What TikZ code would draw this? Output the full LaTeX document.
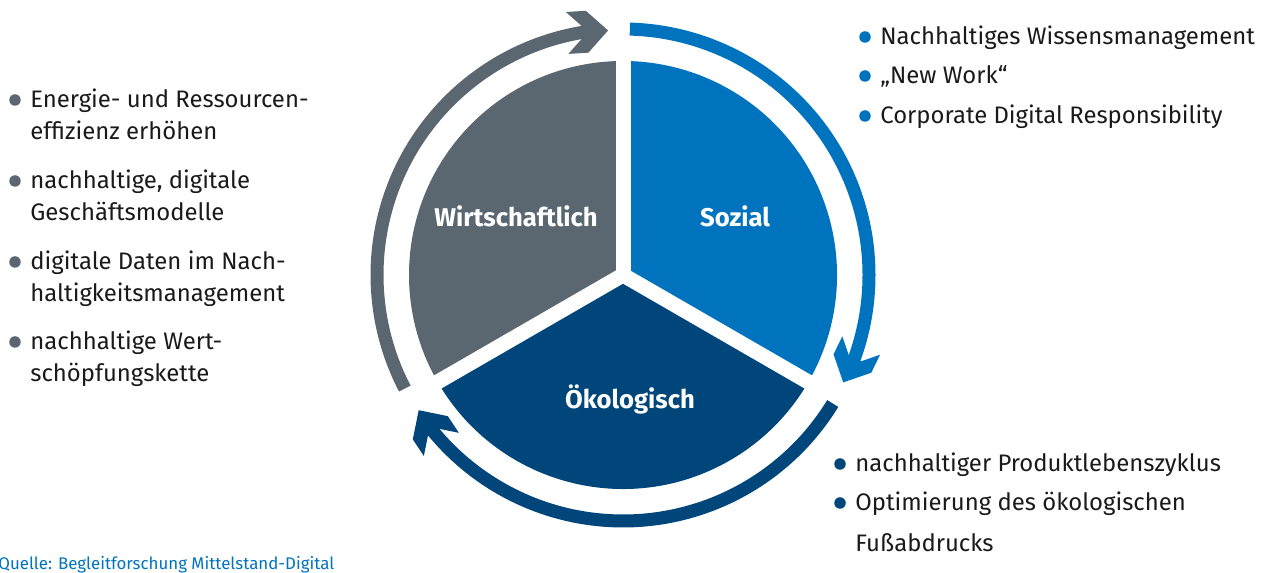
\documentclass[tikz,border=0pt]{standalone}
\usepackage{fontspec}
\setmainfont{Fira Sans}
\usetikzlibrary{calc}

\definecolor{wgray}{HTML}{5A6770}
\definecolor{sblue}{HTML}{0073BF}
\definecolor{oblue}{HTML}{00467A}
\definecolor{txt}{HTML}{1A1A1A}

\begin{document}
\begin{tikzpicture}[x=0.02cm, y=0.02cm,
  sectorlabel/.style={text=white, font=\fontsize{14.6}{18}\selectfont\bfseries, anchor=base, inner sep=0pt},
  item/.style={text=txt, font=\fontsize{13.6}{16}\selectfont, anchor=base west, inner sep=0pt},
  dot/.style={circle, fill=#1, draw=none, minimum size=0.23cm, inner sep=0pt},
  ring/.style={line width=0.26cm, #1},
  chevron/.style={fill=#1},
  gap/.style={white, line width=0.3cm},
  source/.style={text=sblue, font=\fontsize{9.6}{11}\selectfont, anchor=base west, inner sep=0pt}]

\useasboundingbox (0,0) rectangle (1270,573);

\coordinate (C) at (623,298);

% three sectors of the circle
\fill[wgray] (C) -- ++(90:214) arc[start angle=90, end angle=210, radius=214] -- cycle;
\fill[sblue] (C) -- ++(-30:214) arc[start angle=-30, end angle=90, radius=214] -- cycle;
\fill[oblue] (C) -- ++(210:214) arc[start angle=210, end angle=330, radius=214] -- cycle;
\foreach \a in {90,210,330} \draw[gap] (C) -- ++(\a:228);

% circular arrows around the circle (clockwise)
\draw[ring=wgray] ($(C)+(207.5:246)$) arc[start angle=207.5, end angle=97.5, radius=246];
\fill[chevron=wgray, shift={($(C)+(93.5:245)$)}, rotate=3.5]
  (0,0) -- (-21,21) -- (-41,21) -- (-26.5,6.5) -- (-26.5,-6.5) -- (-41,-21) -- (-21,-21) -- cycle;

\draw[ring=sblue] ($(C)+(88.4:246)$) arc[start angle=88.4, end angle=-22, radius=246];
\fill[chevron=sblue, shift={($(C)+(-26:245)$)}, rotate=-116]
  (0,0) -- (-21,21) -- (-41,21) -- (-26.5,6.5) -- (-26.5,-6.5) -- (-41,-21) -- (-21,-21) -- cycle;

\draw[ring=oblue] ($(C)+(-31.5:246)$) arc[start angle=-31.5, end angle=-142.5, radius=246];
\fill[chevron=oblue, shift={($(C)+(-146.5:245)$)}, rotate=123.5]
  (0,0) -- (-21,21) -- (-41,21) -- (-26.5,6.5) -- (-26.5,-6.5) -- (-41,-21) -- (-21,-21) -- cycle;

% sector labels
\node[sectorlabel] (lw) at (516,346) {Wirtschaftlich};
\node[sectorlabel] (ls) at (735,346) {Sozial};
\node[sectorlabel] (lo) at (630,164) {Ökologisch};

% economic list
\node[dot=wgray] (wd1) at (15,473) {};
\node[item] (w1a) at (30,465) {Energie- und Ressourcen-};
\node[item] (w1b) at (30,433) {effizienz erhöhen};
\node[dot=wgray] (wd2) at (15,392) {};
\node[item] (w2a) at (30,384) {nachhaltige, digitale};
\node[item] (w2b) at (30,352) {Geschäftsmodelle};
\node[dot=wgray] (wd3) at (15,311) {};
\node[item] (w3a) at (30,303) {digitale Daten im Nach-};
\node[item] (w3b) at (30,271) {haltigkeitsmanagement};
\node[dot=wgray] (wd4) at (15,231) {};
\node[item] (w4a) at (30,223) {nachhaltige Wert-};
\node[item] (w4b) at (30,191) {schöpfungskette};

% social list
\node[dot=sblue] (sd1) at (865,536) {};
\node[item] (s1) at (880,528) {Nachhaltiges Wissensmanagement};
\node[dot=sblue] (sd2) at (865,497) {};
\node[item] (s2) at (880,489) {„New Work“};
\node[dot=sblue] (sd3) at (865,457) {};
\node[item] (s3) at (880,449) {Corporate Digital Responsibility};

% ecological list
\node[dot=oblue] (od1) at (840,109) {};
\node[item] (o1) at (855,101) {nachhaltiger Produktlebenszyklus};
\node[dot=oblue] (od2) at (840,70) {};
\node[item] (o2a) at (855,62) {Optimierung des ökologischen};
\node[item] (o2b) at (855,21) {Fußabdrucks};

% source line
\node[source] (src) at (-2,3) {Quelle: Begleitforschung Mittelstand-Digital};

\end{tikzpicture}
\end{document}
